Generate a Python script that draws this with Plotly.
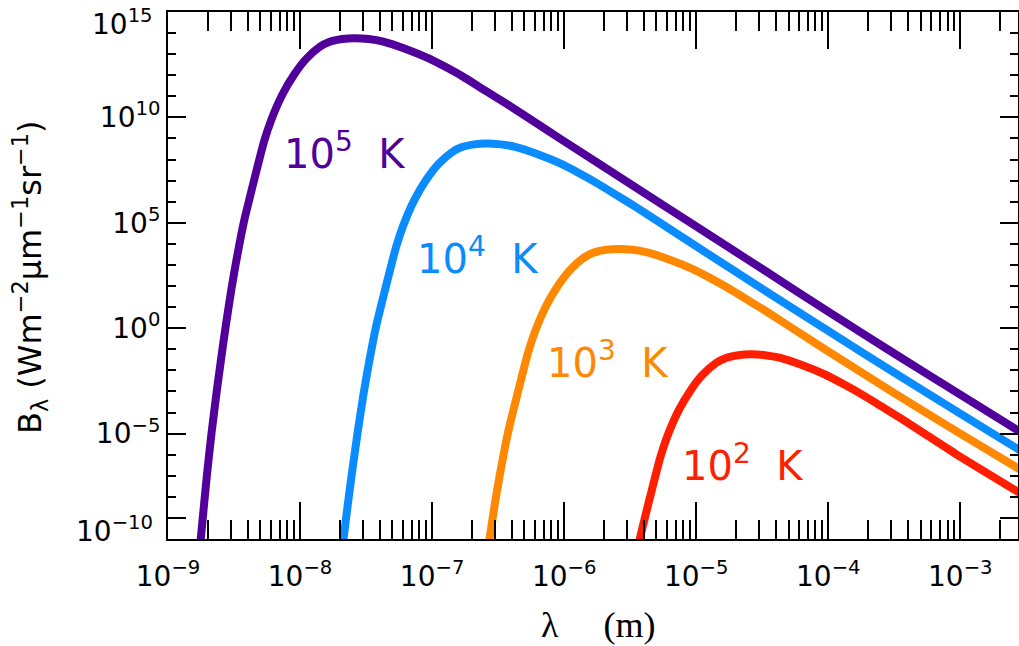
import numpy as np
import plotly.graph_objects as go

# ---- values (log10 of wavelength in m, log10 of B_lambda) ----
T1e5_log_lambda = [-8.765, -8.752, -8.730, -8.705, -8.671, -8.629, -8.600, -8.563, -8.520, -8.487,
                   -8.427, -8.349, -8.273, -8.220, -8.133, -8.043, -7.950, -7.850, -7.780, -7.680,
                   -7.590, -7.480, -7.370, -7.200, -7.017, -6.900, -6.765, -6.600, -6.450, -6.260,
                   -6.033, -5.500, -5.000, -4.500, -4.000, -3.500, -3.000, -2.500]
T1e5_log_B = [-10.85, -10.0, -8.55, -6.95, -5.0, -2.9, -1.55, 0.1, 1.85, 3.05,
              5.0, 7.0, 8.85, 9.85, 11.1, 12.05, 12.8, 13.35, 13.58, 13.72,
              13.76, 13.72, 13.60, 13.25, 12.78, 12.40, 11.93, 11.28, 10.70, 9.93,
              9.00, 6.85, 4.83, 2.81, 0.79, -1.20, -3.15, -5.10]

T1e4_log_lambda = [-7.705, -7.671, -7.629, -7.600, -7.563, -7.520, -7.487, -7.427, -7.349, -7.273,
                   -7.220, -7.133, -7.043, -6.950, -6.850, -6.780, -6.680, -6.590, -6.480, -6.370,
                   -6.200, -6.017, -5.900, -5.765, -5.600, -5.450, -5.260, -5.033, -4.500, -4.000,
                   -3.500, -3.000, -2.500]
T1e4_log_B = [-11.95, -10.0, -7.9, -6.55, -4.9, -3.15, -1.95, 0.0, 2.0, 3.85,
              4.85, 6.1, 7.05, 7.8, 8.35, 8.58, 8.72, 8.76, 8.72, 8.60,
              8.25, 7.78, 7.40, 6.93, 6.30, 5.72, 4.95, 4.02, 1.87, -0.13,
              -2.11, -4.05, -5.98]

T1e3_log_lambda = [-6.600, -6.563, -6.520, -6.487, -6.427, -6.349, -6.273, -6.220, -6.133, -6.043,
                   -5.950, -5.850, -5.780, -5.680, -5.590, -5.480, -5.370, -5.200, -5.017, -4.900,
                   -4.765, -4.600, -4.450, -4.260, -4.033, -3.500, -3.000, -2.500]
T1e3_log_B = [-11.55, -9.9, -8.15, -6.95, -5.0, -3.0, -1.15, -0.15, 1.1, 2.05,
              2.8, 3.35, 3.58, 3.72, 3.76, 3.72, 3.60, 3.25, 2.78, 2.40,
              1.93, 1.30, 0.72, -0.05, -0.97, -3.08, -5.00, -6.88]

T1e2_log_lambda = [-5.487, -5.427, -5.349, -5.273, -5.220, -5.133, -5.043, -4.950, -4.850, -4.780,
                   -4.680, -4.590, -4.480, -4.370, -4.200, -4.017, -3.900, -3.765, -3.600, -3.450,
                   -3.260, -3.033, -2.500]
T1e2_log_B = [-11.95, -10.0, -8.0, -6.15, -5.15, -3.9, -2.95, -2.2, -1.65, -1.42,
              -1.28, -1.24, -1.28, -1.40, -1.75, -2.22, -2.60, -3.07, -3.70, -4.28,
              -5.05, -5.97, -8.00]

series_labels = ["10<sup>5</sup>  K", "10<sup>4</sup>  K", "10<sup>3</sup>  K", "10<sup>2</sup>  K"]
series_colors = ["#52009b", "#0a8cff", "#ff8800", "#ff1e00"]

x_tick_vals = [1e-9, 1e-8, 1e-7, 1e-6, 1e-5, 1e-4, 1e-3]
x_tick_text = ["10<sup>\u22129</sup>", "10<sup>\u22128</sup>", "10<sup>\u22127</sup>", "10<sup>\u22126</sup>",
               "10<sup>\u22125</sup>", "10<sup>\u22124</sup>", "10<sup>\u22123</sup>"]
y_tick_vals = [1e-10, 1e-9, 1e-5, 1e0, 1e5, 1e10, 1e15]
# the two end labels are drawn as annotations, nudged inside the frame as in the original
y_tick_text = ["", "", "10<sup>\u22125</sup>", "10<sup>0</sup>",
               "10<sup>5</sup>", "10<sup>10</sup>", ""]
y_end_labels = ["10<sup>15</sup>", "10<sup>\u221210</sup>"]

curves = [(T1e5_log_lambda, T1e5_log_B), (T1e4_log_lambda, T1e4_log_B),
          (T1e3_log_lambda, T1e3_log_B), (T1e2_log_lambda, T1e2_log_B)]

fig = go.Figure()
for (lx, lb), col in zip(curves, series_colors):
    fig.add_trace(go.Scatter(
        x=np.power(10.0, lx), y=np.power(10.0, lb), mode="lines",
        line=dict(color=col, width=8, shape="spline", smoothing=0.6),
        showlegend=False, hoverinfo="skip"))

tick_font = dict(family="DejaVu Sans", size=28, color="black")

# curve labels (paper coordinates)
label_pos = [(0.1341, 0.7360), (0.2906, 0.5370), (0.4435, 0.3400), (0.6024, 0.1440)]
for txt, col, (px, py) in zip(series_labels, series_colors, label_pos):
    fig.add_annotation(x=px, y=py, xref="paper", yref="paper", text=txt, showarrow=False,
                       xanchor="left", yanchor="middle",
                       font=dict(family="DejaVu Sans", size=40, color=col))

# end labels of the y axis
for txt, py in zip(y_end_labels, [0.9810, 0.0171]):
    fig.add_annotation(x=-0.0153, y=py, xref="paper", yref="paper", text=txt, showarrow=False,
                       xanchor="right", yanchor="middle", font=tick_font)

# axis titles
fig.add_annotation(x=-0.1624, y=0.497, xref="paper", yref="paper",
                   text="B<sub>\u03bb</sub> (Wm<sup>\u22122</sup>\u03bcm<sup>\u22121</sup>sr<sup>\u22121</sup>)",
                   textangle=-90, showarrow=False, xanchor="center", yanchor="middle",
                   font=dict(family="DejaVu Sans", size=32, color="black"))
fig.add_annotation(x=0.5059, y=-0.163, xref="paper", yref="paper",
                   text="\u03bb     (m)", showarrow=False, xanchor="center", yanchor="middle",
                   font=dict(family="Liberation Serif", size=36, color="black"))

fig.update_xaxes(type="log", range=[-9.0001, -2.563], showline=True, linecolor="black", linewidth=2,
                 mirror="ticks", ticks="inside", ticklen=37, tickwidth=2, tickcolor="black",
                 tickmode="array", tickvals=x_tick_vals, ticktext=x_tick_text,
                 tickfont=tick_font, ticklabelstandoff=11, ticklabeloverflow="allow",
                 automargin=False, showgrid=False, zeroline=False,
                 minor=dict(ticks="inside", ticklen=19, tickwidth=2, tickcolor="black",
                            dtick="D1", showgrid=False))
fig.update_yaxes(type="log", range=[-10.0001, 15.0001], showline=True, linecolor="black", linewidth=2,
                 mirror="ticks", ticks="inside", ticklen=18, tickwidth=2, tickcolor="black",
                 tickmode="array", tickvals=y_tick_vals, ticktext=y_tick_text,
                 tickfont=tick_font, ticklabelstandoff=0, ticklabeloverflow="allow",
                 automargin=False, showgrid=False, zeroline=False,
                 minor=dict(ticks="inside", ticklen=8, tickwidth=2, tickcolor="black",
                            dtick=1, showgrid=False))

fig.update_layout(width=1019, height=646, margin=dict(l=168, r=1, t=12, b=107),
                  paper_bgcolor="white", plot_bgcolor="white")

fig.write_html("out.html", config={"displayModeBar": False},
               post_script="document.body.style.margin='0';document.body.style.padding='0';"
                           "document.body.style.overflow='hidden';")
